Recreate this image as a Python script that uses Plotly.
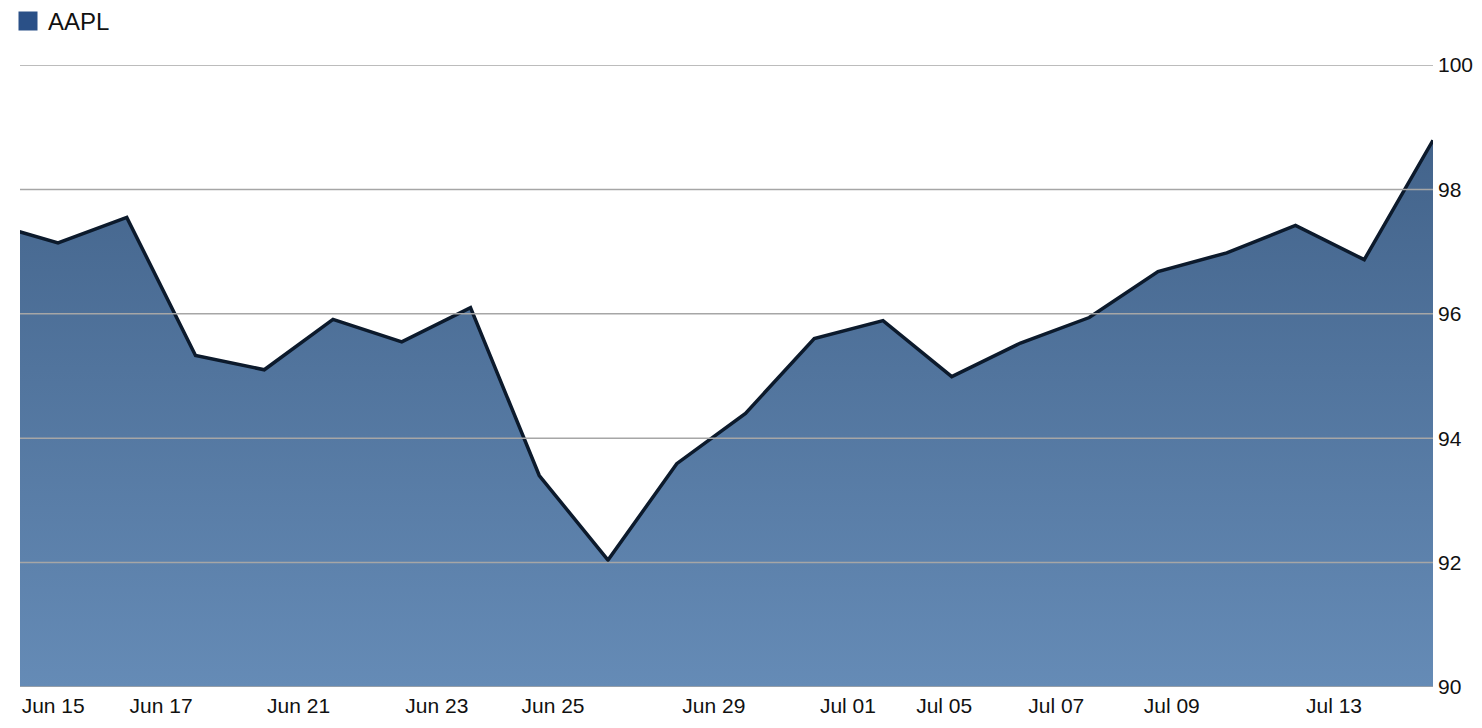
import plotly.graph_objects as go

# ---- data ----
dates = ["Jun 14", "Jun 15", "Jun 16", "Jun 17", "Jun 20", "Jun 21", "Jun 22", "Jun 23",
         "Jun 24", "Jun 27", "Jun 28", "Jun 29", "Jun 30", "Jul 01", "Jul 05", "Jul 06",
         "Jul 07", "Jul 08", "Jul 11", "Jul 12", "Jul 13", "Jul 14"]
aapl = [97.46, 97.14, 97.55, 95.33, 95.10, 95.91, 95.55, 96.10,
        93.40, 92.04, 93.59, 94.40, 95.60, 95.89, 94.99, 95.53,
        95.94, 96.68, 96.98, 97.42, 96.87, 98.79]
x_tick_labels = ["Jun 15", "Jun 17", "Jun 21", "Jun 23", "Jun 25", "Jun 29",
                 "Jul 01", "Jul 05", "Jul 07", "Jul 09", "Jul 13"]
y_ticks = [90, 92, 94, 96, 98, 100]

# layout positions of the x labels (trading-day index scale)
x_tick_pos = [0.93, 2.50, 4.50, 6.51, 8.20, 10.54, 12.49, 13.89, 15.52, 17.20, 19.56]

idx = list(range(len(dates)))

fig = go.Figure()
fig.add_trace(go.Scatter(
    x=idx, y=aapl, mode="lines", name="AAPL", showlegend=False,
    fill="tozeroy",
    fillgradient=dict(type="vertical", start=90, stop=100,
                      colorscale=[[0, "#658bb6"], [1, "#3e5e85"]]),
    line=dict(color="#0c1a2c", width=3.5),
    text=dates, hovertemplate="%{text}: %{y}<extra></extra>",
))
# legend swatch
fig.add_trace(go.Scatter(
    x=[None], y=[None], mode="markers", name="AAPL",
    marker=dict(symbol="square", size=16, color="#2a5087",
                line=dict(color="#2a5087", width=3)),
))

shapes = [dict(type="line", xref="paper", x0=0, x1=1, yref="y", y0=v, y1=v,
               line=dict(color="#a6a6a6", width=1.5), layer="above")
          for v in y_ticks]

W, H = 1466, 712  # page body has an 8px margin
M_T, M_B = 57, 33
fig.update_layout(
    width=W, height=H,
    margin=dict(l=12, r=41, t=M_T, b=M_B, autoexpand=False),
    paper_bgcolor="white", plot_bgcolor="white",
    font=dict(family="Liberation Sans, Arial, sans-serif", size=21, color="#111111"),
    showlegend=True,
    legend=dict(xref="container", yref="paper", x=0.0,
                y=1 + (M_T + 9) / (H - M_T - M_B),
                xanchor="left", yanchor="top", font=dict(size=24, color="#111111"),
                bgcolor="rgba(0,0,0,0)", itemsizing="trace"),
    xaxis=dict(range=[0.447, 21.0], tickmode="array", tickvals=x_tick_pos,
               ticktext=x_tick_labels, showgrid=False, zeroline=False,
               showline=False, ticks="", ticklabelstandoff=4,
               fixedrange=True, automargin=False),
    yaxis=dict(range=[90, 100], side="right", tickmode="array", tickvals=y_ticks,
               showgrid=False, zeroline=False, showline=False, ticks="",
               ticklabelstandoff=4, fixedrange=True, automargin=False),
    shapes=shapes,
)

fig.write_html("out.html")
